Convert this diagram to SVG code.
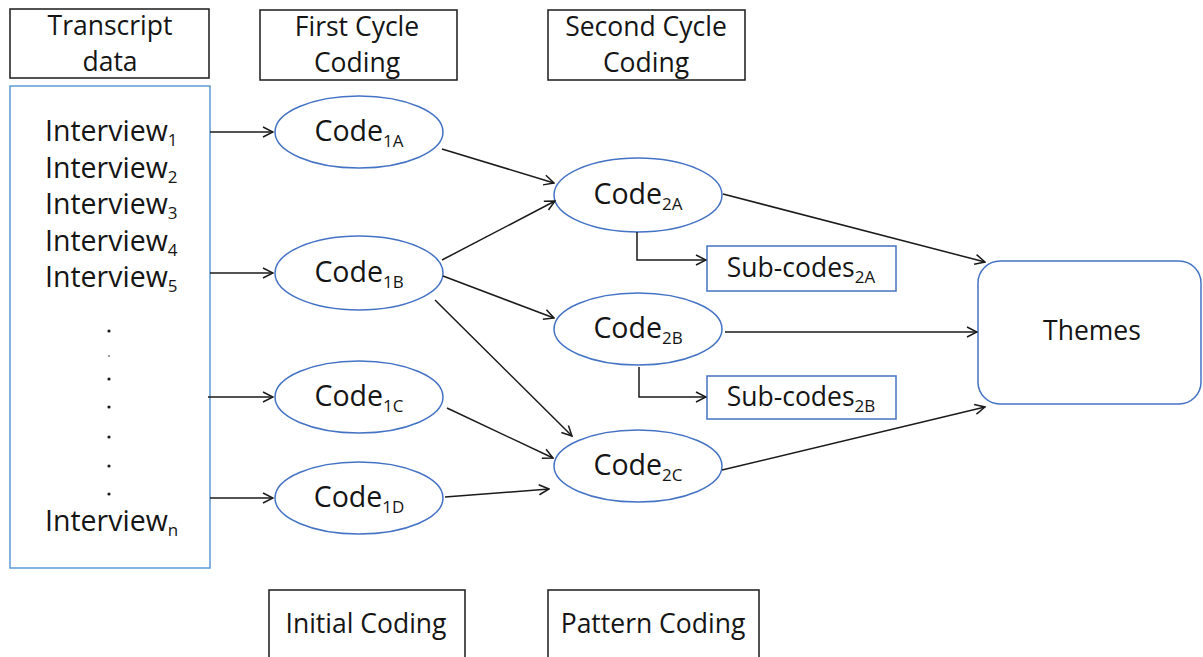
<svg xmlns="http://www.w3.org/2000/svg" width="1203" height="657" viewBox="0 0 1203 657">
  <style>
    text { font-family: "Open Sans", "Liberation Sans", sans-serif; font-size: 26.5px; fill: #151515; }
    .mid { text-anchor: middle; }
    .big { font-size: 28.5px; }
    .sub { font-size: 17px; }
    .label { fill: #fff; stroke: #1a1a1a; stroke-width: 1.5; }
    .blue { fill: #fff; stroke: #5b9bd5; stroke-width: 1.5; }
    .code { fill: #fff; stroke: #4472c4; stroke-width: 1.5; }
    .sub-box { fill: #fff; stroke: #4472c4; stroke-width: 1.5; }
    .edge { fill: none; stroke: #1a1a1a; stroke-width: 1.5; marker-end: url(#arrow); }
    .dot { fill: #1a1a1a; }
  </style>
  <defs>
    <marker id="arrow" viewBox="0 0 12 12" refX="11" refY="6" markerWidth="12" markerHeight="12" markerUnits="userSpaceOnUse" orient="auto">
      <path d="M1,1 L11,6 L1,11" fill="none" stroke="#1a1a1a" stroke-width="1.5"/>
    </marker>
  </defs>
  <rect width="1203" height="657" fill="#fff"/>

  <!-- column headers -->
  <g id="hdr-transcript">
    <rect class="label" x="10" y="9" width="199" height="69"/>
    <text class="mid" x="110" y="35">Transcript</text>
    <text class="mid" x="110" y="71">data</text>
  </g>
  <g id="hdr-first-cycle">
    <rect class="label" x="260" y="10" width="197" height="70"/>
    <text class="mid" x="357" y="36">First Cycle</text>
    <text class="mid" x="357" y="72">Coding</text>
  </g>
  <g id="hdr-second-cycle">
    <rect class="label" x="548" y="10" width="197" height="70"/>
    <text class="mid" x="646" y="36">Second Cycle</text>
    <text class="mid" x="646" y="72">Coding</text>
  </g>

  <!-- transcript list -->
  <g id="transcripts">
    <rect class="blue" x="10" y="86" width="200" height="482"/>
    <text class="big" x="45" y="141">Interview<tspan class="sub" dy="5">1</tspan></text>
    <text class="big" x="45" y="178">Interview<tspan class="sub" dy="5">2</tspan></text>
    <text class="big" x="45" y="214">Interview<tspan class="sub" dy="5">3</tspan></text>
    <text class="big" x="45" y="251">Interview<tspan class="sub" dy="5">4</tspan></text>
    <text class="big" x="45" y="287">Interview<tspan class="sub" dy="5">5</tspan></text>
    <circle class="dot" cx="109" cy="331" r="1.6"/>
    <circle class="dot" cx="109" cy="356" r="0.8"/>
    <circle class="dot" cx="109" cy="379" r="1.6"/>
    <circle class="dot" cx="109" cy="407" r="1.6"/>
    <circle class="dot" cx="109" cy="437" r="1.6"/>
    <circle class="dot" cx="109" cy="466" r="1.6"/>
    <circle class="dot" cx="109" cy="494" r="1.6"/>
    <text class="big" x="45" y="531">Interview<tspan class="sub" dy="5">n</tspan></text>
  </g>

  <!-- first cycle codes -->
  <g id="code-1a">
    <ellipse class="code" cx="359" cy="132" rx="84" ry="36"/>
    <text class="mid big" x="359" y="141">Code<tspan class="sub" dy="6">1A</tspan></text>
  </g>
  <g id="code-1b">
    <ellipse class="code" cx="359" cy="273" rx="84" ry="37"/>
    <text class="mid big" x="359" y="282">Code<tspan class="sub" dy="6">1B</tspan></text>
  </g>
  <g id="code-1c">
    <ellipse class="code" cx="359" cy="397" rx="84" ry="36"/>
    <text class="mid big" x="359" y="406">Code<tspan class="sub" dy="6">1C</tspan></text>
  </g>
  <g id="code-1d">
    <ellipse class="code" cx="359" cy="498" rx="84" ry="36"/>
    <text class="mid big" x="359" y="507">Code<tspan class="sub" dy="6">1D</tspan></text>
  </g>

  <!-- second cycle codes -->
  <g id="code-2a">
    <ellipse class="code" cx="638" cy="195" rx="84" ry="37"/>
    <text class="mid big" x="638" y="204">Code<tspan class="sub" dy="6">2A</tspan></text>
  </g>
  <g id="code-2b">
    <ellipse class="code" cx="638" cy="329" rx="84" ry="36"/>
    <text class="mid big" x="638" y="338">Code<tspan class="sub" dy="6">2B</tspan></text>
  </g>
  <g id="code-2c">
    <ellipse class="code" cx="638" cy="466" rx="84" ry="36"/>
    <text class="mid big" x="638" y="475">Code<tspan class="sub" dy="6">2C</tspan></text>
  </g>

  <!-- sub-codes -->
  <g id="subcodes-2a">
    <rect class="sub-box" x="707" y="246" width="189" height="45"/>
    <text class="mid" x="801" y="277">Sub-codes<tspan class="sub" dy="6">2A</tspan></text>
  </g>
  <g id="subcodes-2b">
    <rect class="sub-box" x="707" y="376" width="189" height="43"/>
    <text class="mid" x="801" y="406">Sub-codes<tspan class="sub" dy="6">2B</tspan></text>
  </g>

  <!-- themes -->
  <g id="themes">
    <rect class="code" x="978" y="261" width="223" height="143" rx="22" ry="22"/>
    <text class="mid" x="1092" y="340">Themes</text>
  </g>

  <!-- footers -->
  <g id="ftr-initial">
    <rect class="label" x="269" y="590" width="196" height="80"/>
    <text class="mid" x="366" y="633">Initial Coding</text>
  </g>
  <g id="ftr-pattern">
    <rect class="label" x="548" y="590" width="211" height="80"/>
    <text class="mid" x="653" y="633">Pattern Coding</text>
  </g>

  <!-- connectors -->
  <g id="connectors">
    <line class="edge" x1="210" y1="132" x2="273" y2="132"/>
    <line class="edge" x1="210" y1="273" x2="273" y2="273"/>
    <line class="edge" x1="208" y1="397" x2="273" y2="397"/>
    <line class="edge" x1="210" y1="498" x2="273" y2="498"/>
    <line class="edge" x1="442" y1="149" x2="554" y2="183"/>
    <line class="edge" x1="442" y1="260" x2="555" y2="201"/>
    <line class="edge" x1="443" y1="276" x2="554" y2="318"/>
    <line class="edge" x1="435" y1="300" x2="572" y2="436"/>
    <line class="edge" x1="447" y1="408" x2="553" y2="458"/>
    <line class="edge" x1="445" y1="497" x2="549" y2="489"/>
    <polyline class="edge" points="637,232 637,260 706,260"/>
    <polyline class="edge" points="639,367 639,397 706,397"/>
    <line class="edge" x1="723" y1="194" x2="985" y2="262"/>
    <line class="edge" x1="725" y1="332" x2="977" y2="332"/>
    <line class="edge" x1="722" y1="470" x2="985" y2="407"/>
  </g>
</svg>
